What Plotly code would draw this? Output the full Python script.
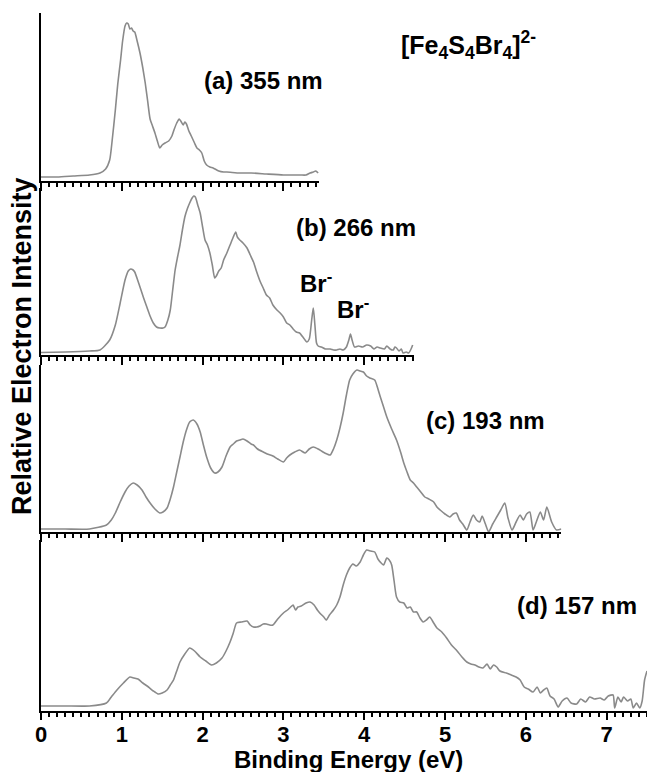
import plotly.graph_objects as go

# ---------------- data (binding energy in eV, relative intensity, arbitrary units) -------------
energy_a = [0.0, 0.2, 0.4, 0.6, 0.73, 0.80, 0.85, 0.88, 0.92, 0.95, 0.985, 1.01, 1.04, 1.06, 1.08,
            1.10, 1.12, 1.14, 1.16, 1.19, 1.225, 1.26, 1.29, 1.32, 1.35, 1.38, 1.41, 1.44, 1.47, 1.50,
            1.535, 1.58, 1.62, 1.65, 1.68, 1.71, 1.73, 1.76, 1.78, 1.80, 1.83, 1.86, 1.90, 1.93, 1.96,
            1.99, 2.02, 2.05, 2.09, 2.13, 2.2, 2.26, 2.3, 2.46, 2.6, 2.79, 3.0, 3.21, 3.28, 3.33,
            3.37, 3.40, 3.43]
inten_a = [4, 4, 5, 6, 8, 12, 21, 40, 71, 97, 121, 140, 155, 158, 157,
           152, 153, 150, 149, 140, 128, 113, 98, 80, 62, 55, 48, 40, 33, 36,
           38, 40, 45, 52, 58, 62, 60, 56, 59, 57, 50, 45, 38, 33, 31,
           28, 20, 16, 14, 13, 10, 9, 9, 8, 8, 7, 6, 6, 6, 8,
           9, 10, 8]

energy_b = [0.0, 0.3, 0.6, 0.73, 0.85, 0.92, 0.98, 1.04, 1.08, 1.11, 1.14, 1.16, 1.20, 1.225, 1.27,
            1.31, 1.35, 1.39, 1.43, 1.47, 1.51, 1.535, 1.57, 1.6, 1.63, 1.66, 1.69, 1.72, 1.75, 1.78,
            1.81, 1.84, 1.87, 1.89, 1.91, 1.94, 1.97, 2.0, 2.03, 2.06, 2.09, 2.12, 2.15, 2.17, 2.2,
            2.23, 2.26, 2.30, 2.34, 2.38, 2.41, 2.43, 2.46, 2.5, 2.55, 2.59, 2.63, 2.67, 2.71, 2.75,
            2.79, 2.83, 2.87, 2.92, 2.96, 3.0, 3.04, 3.08, 3.12, 3.16, 3.2, 3.25, 3.29, 3.32, 3.35,
            3.37, 3.39, 3.41, 3.43, 3.47, 3.52, 3.58, 3.62, 3.66, 3.70, 3.74, 3.78, 3.81, 3.83, 3.85,
            3.88, 3.93, 3.98, 4.03, 4.08, 4.12, 4.16, 4.2, 4.25, 4.28, 4.32, 4.36, 4.38, 4.40, 4.43,
            4.46, 4.48, 4.52, 4.55, 4.58, 4.6]
inten_b = [2.5, 3, 4, 5, 15, 30, 52, 75, 84, 86, 85, 83, 74, 68, 57,
           48, 39, 32, 28, 27, 27, 28, 35, 45, 65, 85, 98, 110, 125, 138,
           146, 152, 157, 159, 158, 150, 142, 128, 115, 110, 102, 90, 77, 79, 84,
           87, 95, 102, 110, 118, 123, 118, 115, 112, 107, 100, 93, 83, 74, 67,
           60, 57, 50, 45, 42, 38, 32, 30, 26, 23, 22, 17, 13, 16, 35,
           47, 30, 12, 9, 8, 6, 6, 5, 5, 6, 5, 8, 15, 21, 15,
           8, 9, 8, 10, 9, 6, 8, 7, 6, 9, 6, 5, 8, 7, 4,
           6, 2, 3, 2, 6, 10]

energy_c = [0.0, 0.3, 0.6, 0.81, 0.87, 0.92, 0.98, 1.04, 1.09, 1.14, 1.19, 1.25, 1.30, 1.35, 1.41,
            1.47, 1.51, 1.56, 1.60, 1.64, 1.68, 1.72, 1.76, 1.80, 1.84, 1.885, 1.93, 1.97, 2.01, 2.05,
            2.10, 2.15, 2.19, 2.24, 2.29, 2.34, 2.38, 2.42, 2.46, 2.5, 2.55, 2.6, 2.63, 2.68, 2.75,
            2.8, 2.87, 2.93, 3.0, 3.04, 3.08, 3.14, 3.2, 3.27, 3.32, 3.37, 3.43, 3.49, 3.54, 3.58,
            3.62, 3.66, 3.70, 3.74, 3.78, 3.82, 3.86, 3.91, 3.95, 3.99, 4.03, 4.07, 4.13, 4.17, 4.2,
            4.24, 4.28, 4.34, 4.40, 4.45, 4.49, 4.53, 4.57, 4.61, 4.65, 4.70, 4.75, 4.80, 4.86, 4.9,
            4.94, 5.0, 5.06, 5.1, 5.14, 5.18, 5.22, 5.27, 5.31, 5.35, 5.39, 5.43, 5.46, 5.50, 5.54,
            5.59, 5.64, 5.69, 5.74, 5.78, 5.83, 5.88, 5.93, 5.97, 6.01, 6.05, 6.09, 6.13, 6.18, 6.22,
            6.26, 6.32, 6.38, 6.44]
inten_c = [3, 3, 3, 7, 12, 19, 30, 40, 46, 49, 47, 42, 35, 29, 23,
           19, 20, 24, 33, 45, 60, 75, 90, 102, 110, 112, 108, 100, 87, 75,
           64, 59, 60, 65, 76, 85, 88, 91, 92, 93, 91, 88, 87, 83, 80,
           78, 76, 73, 70, 74, 77, 80, 82, 79, 83, 85, 83, 80, 78, 77,
           83, 92, 104, 119, 137, 152, 158, 162, 161, 160, 156, 154, 152, 143, 135,
           125, 115, 103, 92, 80, 69, 60, 52, 49, 45, 40, 35, 33, 30, 25,
           22, 18, 15, 18, 19, 12, 8, 2, 10, 17, 12, 10, 16, 8, 0,
           8, 15, 22, 29, 14, 2, 10, 17, 12, 18, 20, 2, 10, 20, 12,
           25, 10, 2, 3]

energy_d = [0.0, 0.3, 0.6, 0.81, 0.87, 0.94, 1.02, 1.10, 1.15, 1.20, 1.26, 1.33, 1.39, 1.45, 1.50,
            1.56, 1.60, 1.64, 1.68, 1.72, 1.78, 1.84, 1.90, 1.97, 2.04, 2.11, 2.17, 2.24, 2.29, 2.34,
            2.38, 2.42, 2.48, 2.55, 2.59, 2.63, 2.67, 2.71, 2.75, 2.79, 2.83, 2.87, 2.93, 3.0, 3.05,
            3.09, 3.12, 3.15, 3.18, 3.22, 3.28, 3.33, 3.38, 3.42, 3.45, 3.50, 3.53, 3.57, 3.62, 3.66,
            3.70, 3.74, 3.78, 3.82, 3.86, 3.90, 3.95, 3.99, 4.03, 4.08, 4.13, 4.17, 4.21, 4.24, 4.28,
            4.31, 4.34, 4.37, 4.40, 4.44, 4.49, 4.53, 4.57, 4.61, 4.65, 4.69, 4.73, 4.77, 4.81, 4.86,
            4.90, 4.96, 5.02, 5.08, 5.15, 5.21, 5.27, 5.32, 5.37, 5.42, 5.47, 5.52, 5.56, 5.6, 5.64,
            5.68, 5.76, 5.82, 5.88, 5.93, 5.98, 6.03, 6.09, 6.14, 6.18, 6.22, 6.26, 6.30, 6.35, 6.40,
            6.45, 6.51, 6.56, 6.63, 6.68, 6.74, 6.79, 6.85, 6.92, 6.97, 7.02, 7.08, 7.1, 7.14, 7.18,
            7.21, 7.26, 7.3, 7.33, 7.37, 7.41, 7.44, 7.47, 7.5]
inten_d = [5, 5, 5, 8, 14, 21, 28, 34, 33, 32, 28, 24, 20, 17, 18,
           21, 26, 31, 40, 49, 57, 63, 60, 54, 50, 46, 48, 53, 60, 69,
           78, 88, 89, 90, 86, 84, 84, 85, 87, 87, 86, 86, 92, 98, 101,
           104, 106, 101, 104, 105, 108, 109, 106, 101, 98, 94, 91, 96, 101, 106,
           114, 126, 136, 143, 147, 145, 149, 156, 161, 160, 159, 152, 148, 146, 153,
           151, 146, 130, 114, 109, 108, 103, 104, 99, 99, 93, 89, 91, 94, 88,
           83, 79, 73, 66, 60, 54, 49, 47, 46, 44, 43, 47, 42, 46, 44,
           40, 38, 36, 34, 31, 24, 22, 19, 24, 18, 21, 23, 15, 12, 4,
           10, 13, 8, 7, 12, 9, 14, 12, 13, 11, 15, 16, 3, 14, 9,
           14, 10, 12, 3, 8, 3, 10, 31, 40]

panel_labels = ["(a) 355 nm", "(b) 266 nm", "(c) 193 nm", "(d) 157 nm"]
species_label = "[Fe<sub>4</sub>S<sub>4</sub>Br<sub>4</sub>]<sup>2-</sup>"
peak_label = "Br<sup>-</sup>"
x_title = "Binding Energy (eV)"
y_title = "Relative Electron Intensity"
x_ticks = [0, 1, 2, 3, 4, 5, 6, 7]

# ---------------- layout helpers ----------------
W, H = 647, 772
L, R, T, B = 41, 0, 0, 61
PW, PH = W - L - R, H - T - B
XMAX = 7.5


def px_x(p):
    return (p - L) / PW


def px_y(p):
    return 1 - (p - T) / PH


FONT = "Liberation Sans, Arial, Helvetica, sans-serif"
LINE_COLOR = "#8a8a8a"

panels = [
    # (energy, intensity, axis-end eV, top px, bottom px)
    (energy_a, inten_a, 3.44, 13, 181),
    (energy_b, inten_b, 4.62, 188, 355),
    (energy_c, inten_c, 6.44, 365, 532),
    (energy_d, inten_d, 7.5, 540, 711),
]

fig = go.Figure()
layout = {}
for i, (ex, iy, xend, top, bot) in enumerate(panels):
    n = "" if i == 0 else str(i + 1)
    fig.add_trace(go.Scatter(x=ex, y=iy, mode="lines",
                             line=dict(color=LINE_COLOR, width=1.6, shape="spline", smoothing=0.6),
                             xaxis="x" + n, yaxis="y" + n, showlegend=False,
                             hoverinfo="skip"))
    last = i == len(panels) - 1
    layout["xaxis" + n] = dict(
        domain=[0, xend / XMAX], range=[0, xend], anchor="y" + n,
        showline=True, linecolor="black", linewidth=2, mirror=False,
        showgrid=False, zeroline=False,
        ticks="outside", tickvals=x_ticks, ticklen=3 if last else 8, tickwidth=2,
        tickcolor="black",
        minor=dict(dtick=0.1, tick0=0, ticks="outside", ticklen=4, tickwidth=1.5,
                   tickcolor="black", showgrid=False),
        showticklabels=last,
        tickfont=dict(family=FONT, size=22, color="black", weight="bold"),
    )
    layout["yaxis" + n] = dict(
        domain=[px_y(bot), px_y(top)], range=[0, bot - top], anchor="x" + n,
        showline=True, linecolor="black", linewidth=2,
        showgrid=False, zeroline=False, ticks="", showticklabels=False,
    )

# overlay axis giving the long integer ticks on the bottom panel (labels come from xaxis4)
layout["xaxis5"] = dict(
    overlaying="x4", anchor="y4", domain=[0, 1], range=[0, XMAX],
    showline=False, showgrid=False, zeroline=False, showticklabels=False,
    ticks="outside", tickvals=x_ticks, ticklen=8, tickwidth=2, tickcolor="black",
)
fig.add_trace(go.Scatter(x=[None], y=[None], xaxis="x5", yaxis="y4", showlegend=False,
                         hoverinfo="skip"))

ann_font = dict(family=FONT, size=24, color="black", weight="bold")
annotations = [
    dict(text=species_label, x=px_x(468), y=px_y(45), font=dict(ann_font, size=25)),
    dict(text=panel_labels[0], x=px_x(263), y=px_y(80)),
    dict(text=panel_labels[1], x=px_x(356), y=px_y(227)),
    dict(text=peak_label, x=px_x(316), y=px_y(282)),
    dict(text=peak_label, x=px_x(353), y=px_y(308)),
    dict(text=panel_labels[2], x=px_x(485), y=px_y(420)),
    dict(text=panel_labels[3], x=px_x(577), y=px_y(605)),
]
for a in annotations:
    a.setdefault("font", ann_font)
    a.update(xref="paper", yref="paper", showarrow=False,
             xanchor="center", yanchor="middle")
annotations.append(dict(text=y_title, x=px_x(22), y=px_y(346), xref="paper", yref="paper",
                        showarrow=False, textangle=-90, xanchor="center", yanchor="middle",
                        font=dict(family=FONT, size=27, color="black", weight="bold")))
annotations.append(dict(text=x_title, x=px_x(348), y=px_y(760), xref="paper", yref="paper",
                        showarrow=False, xanchor="center", yanchor="middle",
                        font=dict(family=FONT, size=24, color="black", weight="bold")))

fig.update_layout(
    width=W, height=H,
    margin=dict(l=L, r=R, t=T, b=B, pad=0),
    paper_bgcolor="white", plot_bgcolor="white",
    annotations=annotations,
    **layout,
)

fig.write_html("out.html")
